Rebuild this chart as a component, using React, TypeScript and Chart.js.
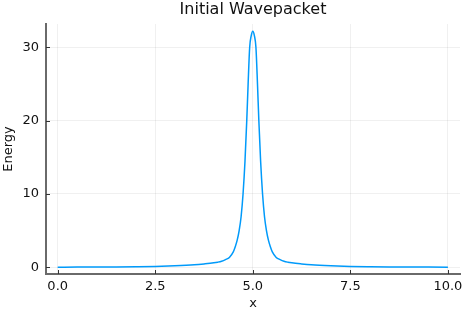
import React, { useEffect, useRef } from "react";
import { Chart, registerables } from "chart.js";

Chart.register(...registerables);

const TITLE = "Initial Wavepacket";
const X_LABEL = "x";
const Y_LABEL = "Energy";

const xValues = [
  0, 0.5, 1, 1.5, 2, 2.5, 3, 3.5, 3.75, 4,
  4.1, 4.2, 4.3, 4.4, 4.5, 4.55, 4.6, 4.65, 4.7, 4.75,
  4.8, 4.845, 4.88, 4.92, 4.96, 5, 5.04, 5.08, 5.12, 5.155,
  5.2, 5.25, 5.3, 5.35, 5.4, 5.45, 5.5, 5.6, 5.7, 5.8,
  5.9, 6, 6.25, 6.5, 7, 7.5, 8, 8.5, 9, 9.5, 10,
];

const energyValues = [
  0.02, 0.03, 0.04, 0.05, 0.07, 0.11, 0.2, 0.34, 0.46, 0.61,
  0.7, 0.83, 1.05, 1.35, 2.1, 2.8, 3.7, 5.0, 6.9, 10,
  14.5, 20, 25, 30, 31.6, 32.2, 31.6, 30, 25, 20,
  14.5, 10, 6.9, 5.0, 3.7, 2.8, 2.1, 1.35, 1.05, 0.83,
  0.7, 0.61, 0.46, 0.34, 0.2, 0.11, 0.07, 0.05, 0.04, 0.03, 0.02,
];

const xTicks = [0, 2.5, 5, 7.5, 10];
const yTicks = [0, 10, 20, 30];

const FONT = "'DejaVu Sans', sans-serif";

const innerTicks = {
  id: "innerTicks",
  afterDraw(chart: any) {
    const { ctx, chartArea, scales } = chart;
    ctx.save();
    ctx.strokeStyle = "#333";
    ctx.lineWidth = 1;
    ctx.beginPath();
    for (const v of xTicks) {
      const px = Math.round(scales.x.getPixelForValue(v)) + 0.5;
      ctx.moveTo(px, chartArea.bottom);
      ctx.lineTo(px, chartArea.bottom - 4);
    }
    for (const v of yTicks) {
      const py = Math.round(scales.y.getPixelForValue(v)) + 0.5;
      ctx.moveTo(chartArea.left, py);
      ctx.lineTo(chartArea.left + 4, py);
    }
    ctx.stroke();
    ctx.restore();
  },
};

export default function App() {
  const ref = useRef<HTMLCanvasElement | null>(null);

  useEffect(() => {
    document.body.style.margin = "0";
    const canvas = ref.current;
    if (!canvas) return;
    const chart = new Chart(canvas, {
      type: "scatter",
      data: {
        datasets: [
          {
            data: xValues.map((x, i) => ({ x, y: energyValues[i] })),
            showLine: true,
            borderColor: "#009afa",
            borderWidth: 1.5,
            pointRadius: 0,
            fill: false,
            cubicInterpolationMode: "monotone",
          },
        ],
      },
      options: {
        animation: false,
        responsive: false,
        layout: { padding: { left: 0, right: 9, top: 0, bottom: 0 } },
        plugins: {
          legend: { display: false },
          tooltip: { enabled: false },
          title: {
            display: true,
            text: TITLE,
            fullSize: false,
            color: "#111",
            font: { family: FONT, size: 16, weight: "normal", lineHeight: 1 },
            padding: { top: 1.5, bottom: 6.5 },
          },
        },
        scales: {
          x: {
            type: "linear",
            min: -0.3,
            max: 10.31,
            afterBuildTicks: (s: any) => {
              s.ticks = xTicks.map((v) => ({ value: v }));
            },
            afterFit: (s: any) => {
              s.height = 39;
            },
            ticks: {
              autoSkip: false,
              maxRotation: 0,
              padding: 5,
              color: "#111",
              font: { family: FONT, size: 13 },
              callback: (v: any) => Number(v).toFixed(1),
            },
            grid: { color: "rgba(0,0,0,0.06)", lineWidth: 1, drawTicks: false },
            border: { display: true, color: "#6a6a6a", width: 2 },
            title: {
              display: true,
              text: X_LABEL,
              color: "#111",
              font: { family: FONT, size: 13 },
              padding: { top: 0, bottom: 1.2 },
            },
          },
          y: {
            type: "linear",
            min: -0.91,
            max: 33.18,
            afterBuildTicks: (s: any) => {
              s.ticks = yTicks.map((v) => ({ value: v }));
            },
            afterFit: (s: any) => {
              s.width = 46;
            },
            ticks: {
              autoSkip: false,
              padding: 7,
              color: "#111",
              font: { family: FONT, size: 13 },
              callback: (v: any) => String(v),
            },
            grid: { color: "rgba(0,0,0,0.06)", lineWidth: 1, drawTicks: false },
            border: { display: true, color: "#6a6a6a", width: 2 },
            title: {
              display: true,
              text: Y_LABEL,
              color: "#111",
              font: { family: FONT, size: 13 },
              padding: { top: 1.2, bottom: 0 },
            },
          },
        },
      },
      plugins: [innerTicks],
    });
    return () => chart.destroy();
  }, []);

  return (
    <div style={{ position: "absolute", left: 0, top: 0, width: 469, height: 313, background: "#fff" }}>
      <canvas ref={ref} width={469} height={313} style={{ display: "block" }} />
    </div>
  );
}
